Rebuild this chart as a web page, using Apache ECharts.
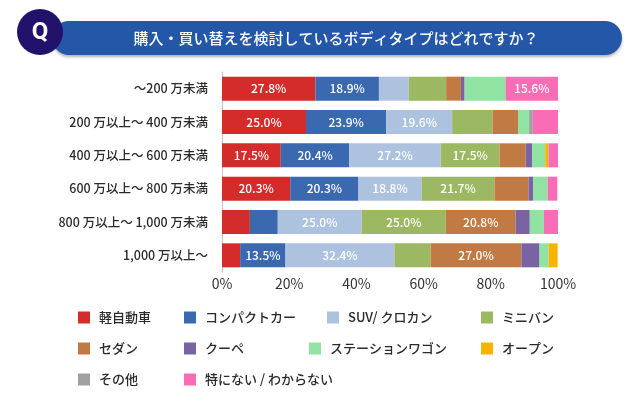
<!DOCTYPE html>
<html lang="ja">
<head>
<meta charset="utf-8">
<script src="https://cdn.jsdelivr.net/npm/echarts@6/dist/echarts.min.js"></script>
<style>
  html, body { margin: 0; padding: 0; background: #fff; }
  #chart { width: 640px; height: 405px; }
</style>
</head>
<body>
<div id="chart"></div>
<script>
// income brackets, top to bottom
const categories = ['～200 万未満', '200 万以上～ 400 万未満', '400 万以上～ 600 万未満',
  '600 万以上～ 800 万未満', '800 万以上～ 1,000 万未満', '1,000 万以上～']

// body types (legend order)
const bodyTypes = ['軽自動車', 'コンパクトカー', 'SUV/ クロカン', 'ミニバン', 'セダン', 'クーペ',
  'ステーションワゴン', 'オープン', 'その他', '特にない / わからない']

// share (%) per body type, one value per bracket
const kei        = [27.8, 25.0, 17.5, 20.3, 8.3, 5.4]
const compact    = [18.9, 23.9, 20.4, 20.3, 8.3, 13.5]
const suv        = [8.9, 19.6, 27.2, 18.8, 25.0, 32.4]
const minivan    = [11.1, 12.0, 17.5, 21.7, 25.0, 10.8]
const sedan      = [4.4, 7.6, 7.8, 10.1, 20.8, 27.0]
const coupe      = [1.1, 0, 1.9, 1.4, 4.2, 5.4]
const wagon      = [12.2, 3.3, 3.9, 4.3, 4.2, 2.7]
const openCar    = [0, 0, 1.0, 0, 0, 2.7]
const other      = [0, 1.1, 0, 0, 0, 0]
const noneKnown  = [15.6, 7.6, 2.9, 2.9, 4.2, 0]

const xTicks = [0, 20, 40, 60, 80, 100]

const values = [kei, compact, suv, minivan, sedan, coupe, wagon, openCar, other, noneKnown]
const colors = ['#d42b2b', '#3a69b0', '#adc2df', '#9db862', '#c27a45', '#7a63a2',
  '#90e3a2', '#f6b400', '#a0a0a0', '#f86db6']

const font = '"Noto Sans CJK JP", "Noto Sans", sans-serif'

// legend layout: [left, top] per item
const legendPos = [
  [78, 311], [184, 311], [327, 311], [481, 311],
  [78, 342], [184, 342], [309, 342], [481, 342],
  [78, 373], [184, 373]
]

let series = bodyTypes.map((name, i) => ({
  name: name,
  type: 'bar',
  stack: 'total',
  barWidth: 24,
  data: values[i],
  itemStyle: { color: colors[i] },
  label: {
    show: true,
    color: '#fff',
    fontSize: 12,
    fontWeight: 500,
    fontFamily: font,
    formatter: p => p.value >= 13 ? p.value.toFixed(1) + '%' : ''
  },
  emphasis: { disabled: true }
}))

let legends = bodyTypes.map((name, i) => ({
  data: [name],
  left: legendPos[i][0],
  top: legendPos[i][1],
  padding: 0,
  icon: 'rect',
  itemWidth: 12,
  itemHeight: 12,
  selectedMode: false,
  textStyle: { fontSize: 13, fontWeight: 500, color: '#2a2a2a', fontFamily: font, padding: [0, 0, 0, 4] }
}))

let chart = echarts.init(document.querySelector('#chart'))
chart.setOption({
  animation: false,
  grid: { left: 222, right: 82, top: 72, bottom: 133, containLabel: false },
  xAxis: {
    type: 'value',
    min: 0, max: 100, interval: 20,
    axisLine: { show: false },
    axisTick: { show: false },
    splitLine: { show: false },
    axisLabel: {
      fontSize: 14, color: '#333', fontFamily: font, margin: 5,
      formatter: v => xTicks.includes(v) ? v + '%' : ''
    }
  },
  yAxis: {
    type: 'category',
    data: categories,
    inverse: true,
    axisLine: { show: true, lineStyle: { color: '#c4c4c4', width: 1 } },
    axisTick: { show: false },
    axisLabel: { fontSize: 12.5, fontWeight: 500, color: '#2a2a2a', fontFamily: font, margin: 14 }
  },
  legend: legends,
  series: series,
  graphic: [
    {
      type: 'rect',
      shape: { x: 52, y: 21, width: 570, height: 34, r: 17 },
      style: { fill: '#2457a7', shadowBlur: 3, shadowOffsetY: 2, shadowColor: 'rgba(0,0,0,0.3)' }
    },
    {
      type: 'text',
      style: {
        x: 336, y: 38, text: '購入・買い替えを検討しているボディタイプはどれですか？',
        fill: '#fff', font: '500 15px ' + font, textAlign: 'center', textVerticalAlign: 'middle'
      }
    },
    {
      type: 'circle',
      shape: { cx: 40, cy: 32, r: 23 },
      style: { fill: '#22126c' }
    },
    {
      type: 'text',
      style: {
        x: 40, y: 33, text: 'Q', fill: '#fff', font: 'bold 24px Roboto, sans-serif',
        textAlign: 'center', textVerticalAlign: 'middle'
      }
    }
  ]
})
</script>
</body>
</html>
